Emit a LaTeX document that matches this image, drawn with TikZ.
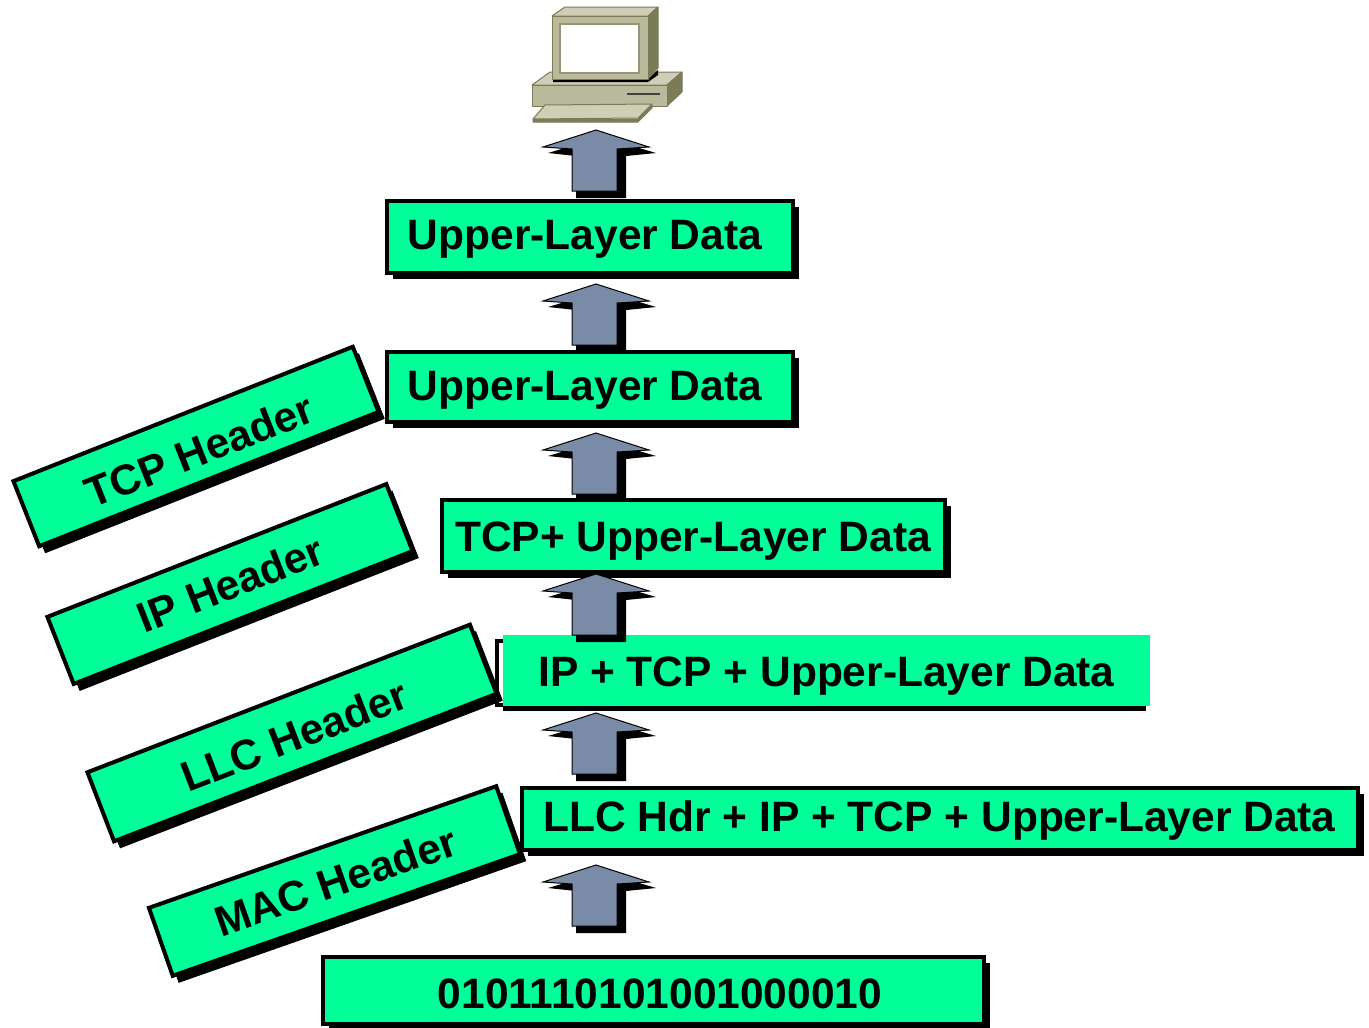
\documentclass[tikz,border=0pt]{standalone}
\usepackage{fontspec}
\setmainfont{Liberation Sans}
\usetikzlibrary{shadows}

\definecolor{boxgreen}{HTML}{00FF99}
\definecolor{arrowblue}{HTML}{7A8BA8}
\definecolor{pcbody}{HTML}{B9B99B}
\definecolor{pctop}{HTML}{CFCFB5}
\definecolor{pcside}{HTML}{7B7B58}

\tikzset{
    textdrop/.style={text height=40pt, text depth={40pt-2*#1pt}},
    layerbox/.style={draw=black, line width=4pt, fill=boxgreen, inner sep=0pt, font=\fontsize{42.5}{42.5}\selectfont\bfseries,
        drop shadow={shadow xshift=6pt, shadow yshift=-6.5pt, fill=black, opacity=1}},
    headerbox/.style={layerbox, rotate=#1,
        drop shadow={shadow xshift=6pt, shadow yshift=-7pt, fill=black, opacity=1}},
    pcpart/.style={draw=pcside, line width=1pt, line join=round},
    uparrow/.pic={
        \fill[black] (-48, 23) -- (6, 7) -- (60, 23) -- (30, 26) -- (30, 68) -- (-20, 68) -- (-20, 26) -- cycle;
        \draw[black, line width=1pt, fill=arrowblue] (0, 0) -- (-53, 17) -- (-24, 19) -- (-24, 61) -- (21, 61) -- (21, 19) -- (53, 17) -- cycle;
    }
}

\begin{document}
\begin{tikzpicture}[x=1pt, y=-1pt]
    \useasboundingbox (0, 0) rectangle (1369, 1028);

    \node[layerbox, textdrop=13, minimum width=406pt, minimum height=72pt] (data) at (590, 236.5) {Upper-Layer Data\kern10pt};
    \node[layerbox, textdrop=14, minimum width=406pt, minimum height=70pt] (tcpdata) at (590, 386.5) {Upper-Layer Data\kern10pt};
    \node[layerbox, textdrop=16, minimum width=503pt, minimum height=72pt] (ipdata) at (693, 535.5) {TCP+ Upper-Layer Data};
    \node[layerbox, fill=white, minimum width=643pt, minimum height=64pt] (llcback) at (818, 672.5) {};
    \node[textdrop=16, fill=boxgreen, inner sep=0pt, font=\fontsize{42.5}{42.5}\selectfont\bfseries, minimum width=647pt, minimum height=71pt] (llcdata) at (826.5, 670.5) {IP + TCP + Upper-Layer Data};
    \node[layerbox, textdrop=13, minimum width=836pt, minimum height=62pt] (macdata) at (939.5, 818.5) {LLC Hdr + IP + TCP + Upper-Layer Data};
    \node[layerbox, textdrop=18, minimum width=661pt, minimum height=67pt] (bits) at (653, 990) {\kern14pt 0101110101001000010};

    \node[headerbox=21.6, textdrop=20, minimum width=365pt, minimum height=70pt] (tcphdr) at (196, 446.5) {\kern3pt TCP Header};
    \node[headerbox=21.4, textdrop=15, minimum width=364pt, minimum height=72pt] (iphdr) at (230, 584) {\kern1pt IP Header};
    \node[headerbox=21.1, textdrop=18.5, minimum width=410pt, minimum height=74pt] (llchdr) at (292, 733) {\kern2pt LLC Header};
    \node[headerbox=19.3, textdrop=16, minimum width=368pt, minimum height=72pt] (machdr) at (334.5, 881) {\kern2pt MAC Header};

    \foreach \tip in {130, 284, 433, 574, 713, 865} {
        \pic at (596, \tip) {uparrow};
    }

    % computer
    \draw[pcpart, fill=pctop] (532, 85) -- (550, 72) -- (682, 72) -- (667, 85) -- cycle;
    \draw[pcpart, fill=pcside] (667, 85) -- (682, 72) -- (682, 92) -- (667, 106) -- cycle;
    \draw[pcpart, fill=pcbody] (532, 85) rectangle (667, 106);
    \draw[black!75, line width=2pt] (627, 94) -- (660, 94);
    \fill[black] (553, 79) -- (648, 79) -- (658, 70) -- (658, 75) -- (648, 82) -- (553, 82) -- cycle;
    \draw[pcpart, fill=pctop] (552, 16) -- (565, 7) -- (658, 7) -- (648, 16) -- cycle;
    \draw[pcpart, fill=pcside] (648, 16) -- (658, 7) -- (658, 68) -- (648, 79) -- cycle;
    \draw[pcpart, fill=pcbody] (552, 16) rectangle (648, 79);
    \draw[pcside!80, line width=2pt, fill=white] (560, 24) rectangle (639, 73);
    \draw[pcpart, fill=pcside] (533, 119) -- (638, 119) -- (652, 105) -- (652, 108) -- (638, 122) -- (533, 122) -- cycle;
    \draw[pcpart, fill=pctop] (533, 119) -- (545, 105) -- (652, 104) -- (638, 118) -- cycle;
\end{tikzpicture}
\end{document}
